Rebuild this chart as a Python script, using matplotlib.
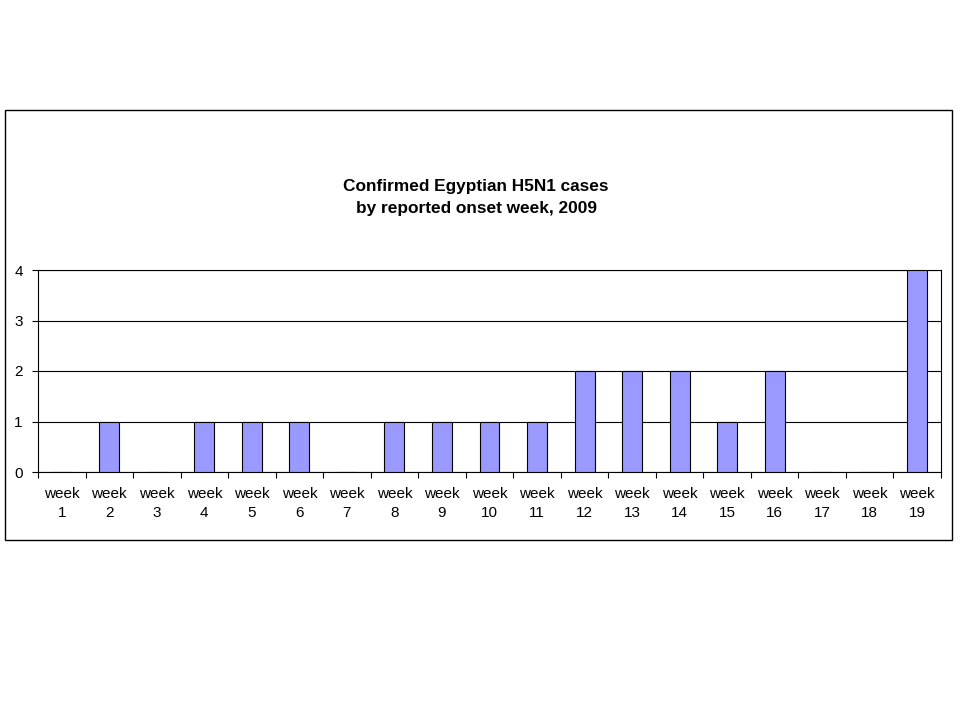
import numpy as np
import matplotlib.pyplot as plt
from matplotlib.patches import Rectangle

weeks = list(range(1, 20))
cases = [0, 1, 0, 1, 1, 1, 0, 1, 1, 1, 1, 2, 2, 2, 1, 2, 0, 0, 4]
tick_labels = ["week\n%d" % w for w in weeks]
title = "Confirmed Egyptian H5N1 cases\nby reported onset week, 2009"

plt.rcParams['font.family'] = ['Liberation Sans', 'DejaVu Sans']

fig = plt.figure(figsize=(9.6, 7.2), dpi=100)
fig.patches.append(Rectangle((5/960, 180/720), 947/960, 430/720,
                             transform=fig.transFigure, fill=False,
                             edgecolor="black", linewidth=1.0))

ax = fig.add_axes([38/960, 248/720, 903/960, 202/720])
x = np.arange(len(weeks))
ax.bar(x, cases, width=0.42, color="#9999FF", edgecolor="black",
       linewidth=0.8, zorder=3)

ax.set_xlim(-0.5, len(weeks) - 0.5)
ax.set_ylim(0, 4)
ax.set_yticks([0, 1, 2, 3, 4])
ax.yaxis.grid(True, color="black", linewidth=0.8)
ax.set_xticks(x)
ax.set_xticklabels(tick_labels, fontsize=11, linespacing=1.45)
ax.set_xticks(np.arange(-0.5, len(weeks)), minor=True)
ax.tick_params(axis="x", which="major", length=0, pad=11)
ax.tick_params(axis="x", which="minor", length=4, width=0.8, direction="out")
ax.tick_params(axis="y", length=4, width=0.8, labelsize=11, pad=7)
for s in ax.spines.values():
    s.set_linewidth(0.8)

fig.text(476/960, 1 - 197.5/720, title, ha="center", va="center",
         fontsize=12.4, fontweight="bold", linespacing=1.55)

fig.savefig("out.png", dpi=100)
